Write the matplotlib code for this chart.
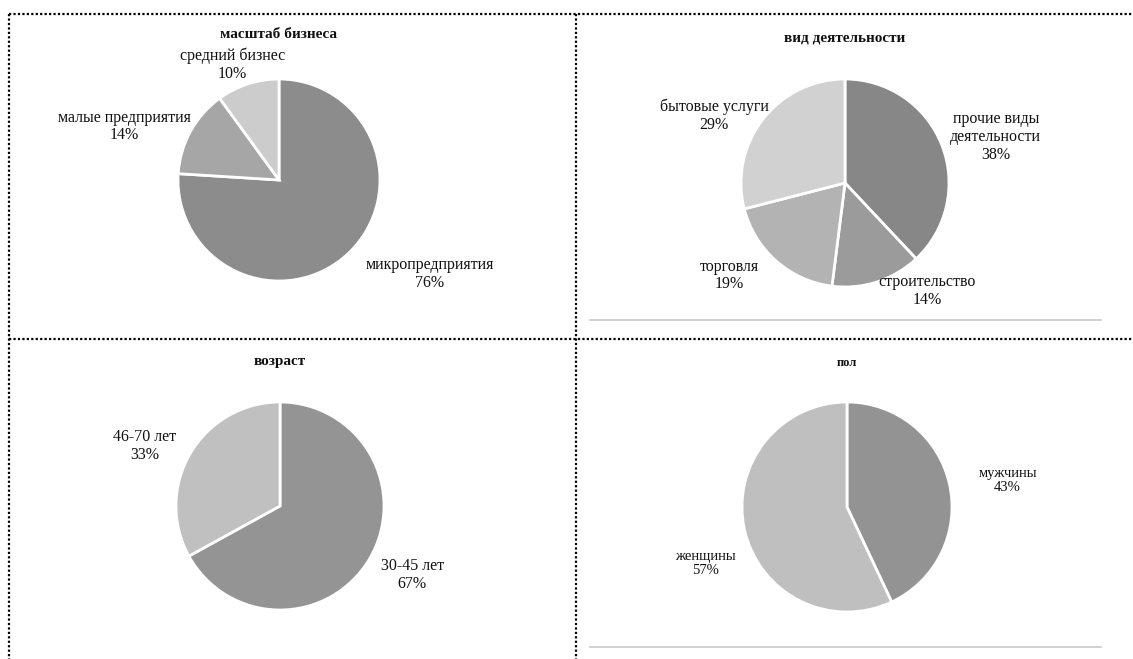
import matplotlib.pyplot as plt
from matplotlib.lines import Line2D

plt.rcParams['font.family'] = ['Liberation Serif', 'DejaVu Serif']

# масштаб бизнеса
scale_labels = ['микропредприятия', 'малые предприятия', 'средний бизнес']
scale_values = [76, 14, 10]
scale_colors = ['#8c8c8c', '#a6a6a6', '#cccccc']

# вид деятельности
activity_labels = ['прочие виды\nдеятельности', 'строительство', 'торговля', 'бытовые услуги']
activity_values = [38, 14, 19, 29]
activity_colors = ['#878787', '#9b9b9b', '#b3b3b3', '#d1d1d1']

# возраст
age_labels = ['30-45 лет', '46-70 лет']
age_values = [67, 33]
age_colors = ['#949494', '#c0c0c0']

# пол
sex_labels = ['мужчины', 'женщины']
sex_values = [43, 57]
sex_colors = ['#939393', '#bfbfbf']

W, H = 1133, 659
fig = plt.figure(figsize=(W / 100, H / 100), dpi=100)
fig.patch.set_facecolor('white')


def px(x, y):
    return x / W, 1 - y / H


def draw_pie(cx, cy, r, values, labels, colors, offsets, title, title_y,
             title_size, label_size):
    half = 200
    x0, y0 = px(cx - half, cy + half)
    ax = fig.add_axes([x0, y0, 2 * half / W, 2 * half / H])
    lim = half / r
    ax.pie(values, colors=colors, startangle=90, counterclock=False, radius=1,
           wedgeprops=dict(edgecolor='white', linewidth=2))
    ax.set_xlim(-lim, lim)
    ax.set_ylim(-lim, lim)
    ax.set_aspect('equal')
    ax.axis('off')
    for lab, val, (dx, dy) in zip(labels, values, offsets):
        ax.text(dx, dy, f'{lab}\n{val}%', ha='center', va='center',
                fontsize=label_size, linespacing=1.15, color='#111111')
    tx, ty = px(cx, title_y)
    fig.text(tx, ty, title, ha='center', va='center', fontsize=title_size,
             fontweight='bold', color='#111111')


draw_pie(279, 180, 101, scale_values, scale_labels, scale_colors,
         [(1.49, -0.93), (-1.53, 0.53), (-0.46, 1.14)],
         'масштаб бизнеса', 34, 11, 11.5)
draw_pie(845, 183, 104, activity_values, activity_labels, activity_colors,
         [(1.45, 0.44), (0.79, -1.04), (-1.11, -0.89), (-1.26, 0.65)],
         'вид деятельности', 38, 11, 11.5)
draw_pie(280, 506, 104, age_values, age_labels, age_colors,
         [(1.27, -0.66), (-1.30, 0.58)],
         'возраст', 362, 11, 11.5)
draw_pie(847, 507, 105, sex_values, sex_labels, sex_colors,
         [(1.53, 0.25), (-1.35, -0.54)],
         'пол', 363, 9, 10.5)

# dotted frame between panels
frame = dict(color='black', linewidth=1.6, linestyle=(0, (1, 1)))
for xs, ys in [((9, W), (14, 14)), ((9, W), (339, 339)),
               ((9, 9), (14, H)), ((576, 576), (14, H))]:
    x_pts = [px(x, 0)[0] for x in xs]
    y_pts = [px(0, y)[1] for y in ys]
    fig.add_artist(Line2D(x_pts, y_pts, **frame))

# thin grey rules under the right-hand charts
for y in (320, 647):
    fig.add_artist(Line2D([px(590, 0)[0], px(1101, 0)[0]],
                          [px(0, y)[1]] * 2, color='#c8c8c8', linewidth=1.2))

fig.savefig('out.png', dpi=100)
